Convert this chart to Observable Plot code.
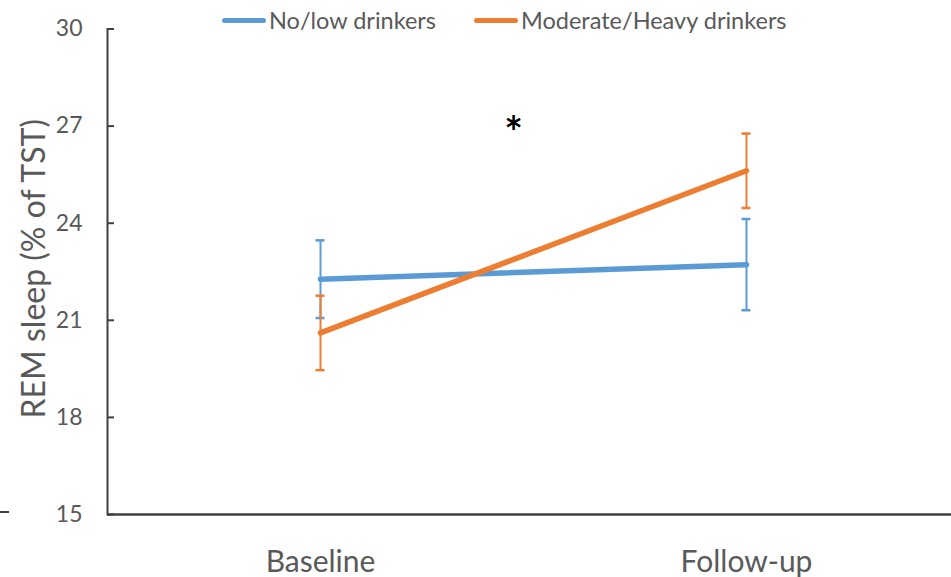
<!DOCTYPE html>
<html>
<head>
<meta charset="utf-8">
<script src="https://cdn.jsdelivr.net/npm/d3@7"></script>
<script src="https://cdn.jsdelivr.net/npm/@observablehq/plot@0.6"></script>
<style>
  html, body { margin: 0; padding: 0; background: #fff; }
  #wrap { position: relative; width: 951px; height: 577px; font-family: Lato, "Open Sans", sans-serif; }
  #legend { position: absolute; top: 0; left: 0; width: 951px; height: 40px; color: #595959; font-size: 23.5px; }
  .item { position: absolute; top: 5px; display: flex; align-items: center; height: 30px; }
  .swatch { display: inline-block; width: 44px; height: 5px; border-radius: 3px; margin-right: 3px; }
  #stub { position: absolute; left: 0; top: 511px; width: 9px; height: 2px; background: #404040; }
</style>
</head>
<body>
<div id="wrap">
  <div id="chart"></div>
  <div id="legend"></div>
  <div id="stub"></div>
</div>
<script>
// Time points
const phases = ["Baseline", "Follow-up"];
// REM sleep, % of total sleep time (mean and error)
const noLowMean = [22.27, 22.72];
const noLowErr = [1.2, 1.41];
const modHeavyMean = [20.61, 25.62];
const modHeavyErr = [1.15, 1.15];
// Groups
const groups = ["No/low drinkers", "Moderate/Heavy drinkers"];
const groupColors = ["#5B9BD5", "#ED7D31"];
// Axis ticks
const yTicks = [15, 18, 21, 24, 27, 30];

const rows = (group, means, errs) => phases.map((p, i) => ({
  group, phase: p, mean: means[i], lo: means[i] - errs[i], hi: means[i] + errs[i]
}));
const noLow = rows(groups[0], noLowMean, noLowErr);
const modHeavy = rows(groups[1], modHeavyMean, modHeavyErr);

const textColor = "#595959";
const axisColor = "#404040";

const errorMarks = (data, color) => [
  Plot.ruleX(data, {x: "phase", y1: "lo", y2: "hi", stroke: color, strokeWidth: 2}),
  Plot.ruleY(data, {x1: "phase", x2: "phase", y: "hi", stroke: color, strokeWidth: 2.5, insetLeft: -4.5, insetRight: -4.5}),
  Plot.ruleY(data, {x1: "phase", x2: "phase", y: "lo", stroke: color, strokeWidth: 2.5, insetLeft: -4.5, insetRight: -4.5})
];

const chart = Plot.plot({
  width: 951,
  height: 577,
  marginLeft: 107,
  marginRight: 0,
  marginTop: 28.5,
  marginBottom: 63,
  style: {fontFamily: "Lato, 'Open Sans', sans-serif", background: "#fff"},
  x: {type: "point", domain: phases, range: [320, 746], padding: 0, axis: null},
  y: {domain: [15, 30], axis: null},
  marks: [
    // y axis: labels, inward ticks and axis line
    Plot.axisY({ticks: yTicks, tickSize: 0, tickPadding: 25, fontSize: 23, color: textColor, label: null}),
    Plot.ruleY(yTicks, {stroke: axisColor, strokeWidth: 2, insetRight: 951 - 107 - 7}),
    Plot.frame({anchor: "left", stroke: axisColor, strokeWidth: 2}),
    // x axis
    Plot.ruleY([15], {stroke: axisColor, strokeWidth: 2.5}),
    Plot.axisX({tickSize: 0, tickPadding: 36, fontSize: 30, color: textColor, label: null}),
    // y title
    Plot.text(["REM sleep (% of TST)"], {
      frameAnchor: "left", textAnchor: "middle", dx: -73, dy: -3, rotate: -90, fontSize: 32, fill: textColor
    }),
    // error bars
    ...errorMarks(noLow, groupColors[0]),
    ...errorMarks(modHeavy, groupColors[1]),
    // mean lines
    Plot.line(noLow, {x: "phase", y: "mean", stroke: groupColors[0], strokeWidth: 5.5, strokeLinecap: "round"}),
    Plot.line(modHeavy, {x: "phase", y: "mean", stroke: groupColors[1], strokeWidth: 5.5, strokeLinecap: "round"}),
    // significance marker
    Plot.text(["*"], {frameAnchor: "top-left", textAnchor: "middle", dx: 513 - 107, dy: 124 - 28.5 - 8, fontSize: 44, fontWeight: "bold", fill: "#000"})
  ]
});
document.getElementById("chart").appendChild(chart);

// legend
const legend = document.getElementById("legend");
const legendX = [222, 474];
groups.forEach((g, i) => {
  const item = document.createElement("div");
  item.className = "item";
  item.style.left = legendX[i] + "px";
  const sw = document.createElement("span");
  sw.className = "swatch";
  sw.style.background = groupColors[i];
  const label = document.createElement("span");
  label.textContent = g;
  item.appendChild(sw);
  item.appendChild(label);
  legend.appendChild(item);
});
</script>
</body>
</html>
